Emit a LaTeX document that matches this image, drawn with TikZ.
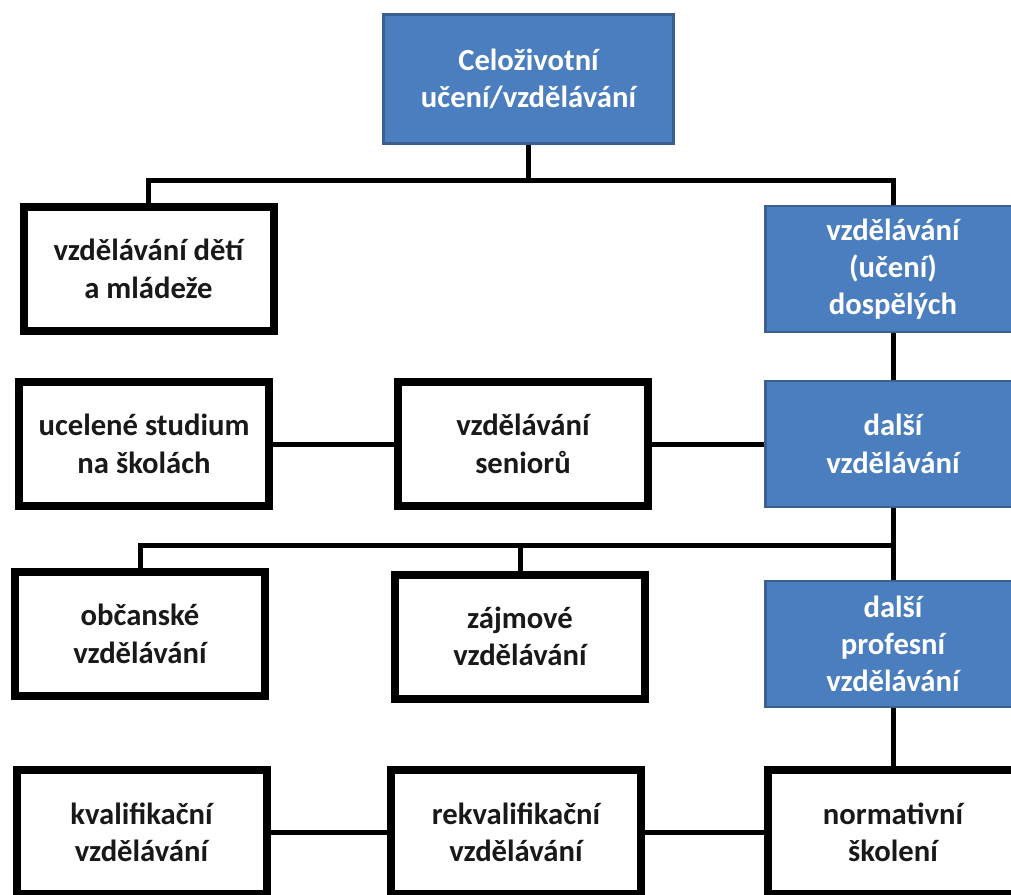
\documentclass[tikz,border=0pt]{standalone}
\usepackage{fontspec}
\setmainfont{Carlito}
\usetikzlibrary{shadows}
\definecolor{boxblue}{RGB}{74,126,191}
\definecolor{boxblueline}{RGB}{58,96,146}

\begin{document}
\begin{tikzpicture}[x=0.75pt, y=-0.75pt,
    font=\fontsize{23}{28}\selectfont\bfseries,
    blackbox/.style={draw=black, line width=6pt, fill=white, text=black!90, align=center, inner sep=0pt,
        minimum width=187.5pt, minimum height=93pt,
        drop shadow={opacity=0.2, shadow xshift=1pt, shadow yshift=-2.5pt}},
    bluebox/.style={draw=boxblueline, line width=2pt, fill=boxblue, text=white, align=center, inner sep=0pt,
        minimum width=191pt, minimum height=94.5pt},
    link/.style={line width=3.75pt}]
    \clip (0, 0) rectangle (1011, 894);

    % Top box
    \node[bluebox, minimum width=217.5pt, minimum height=96.75pt] (root) at (528.5, 79) {Celoživotní\\učení/vzdělávání};

    % Second row
    \node[blackbox] (mladez) at (148.5, 269) {vzdělávání dětí\\a mládeže};
    \node[bluebox] (dospeli) at (893, 269) {vzdělávání\\(učení)\\dospělých};

    % Third row
    \node[blackbox] (ucelene) at (144, 444) {ucelené studium\\na školách};
    \node[blackbox] (seniori) at (523, 444) {vzdělávání\\seniorů};
    \node[bluebox] (dalsi) at (893, 444) {další\\vzdělávání};

    % Fourth row
    \node[blackbox] (obcanske) at (140, 634) {občanské\\vzdělávání};
    \node[blackbox] (zajmove) at (520, 636.5) {zájmové\\vzdělávání};
    \node[bluebox] (profesni) at (893, 644) {další\\profesní\\vzdělávání};

    % Bottom row
    \node[blackbox] (kval) at (141.5, 832) {kvalifikační\\vzdělávání};
    \node[blackbox] (rekval) at (516, 832) {rekvalifikační\\vzdělávání};
    \node[blackbox] (normativ) at (893, 832) {normativní\\školení};

    % Tree lines
    \coordinate (topbus) at (528.5, 180);
    \coordinate (midbus) at (893, 545);
    \draw[link] (root.south) -- (topbus);
    \draw[link] (mladez.north) |- (topbus) -| (dospeli.north);
    \draw[link] (dospeli.south) -- (dalsi.north);
    \draw[link] (ucelene.east) -- (seniori.west);
    \draw[link] (seniori.east) -- (dalsi.west);
    \draw[link] (dalsi.south) -- (profesni.north);
    \draw[link] (obcanske.north) |- (midbus);
    \draw[link] (zajmove.north) |- (midbus);
    \draw[link] (profesni.south) -- (normativ.north);
    \draw[link] (kval.east) -- (rekval.west);
    \draw[link] (rekval.east) -- (normativ.west);
\end{tikzpicture}
\end{document}
